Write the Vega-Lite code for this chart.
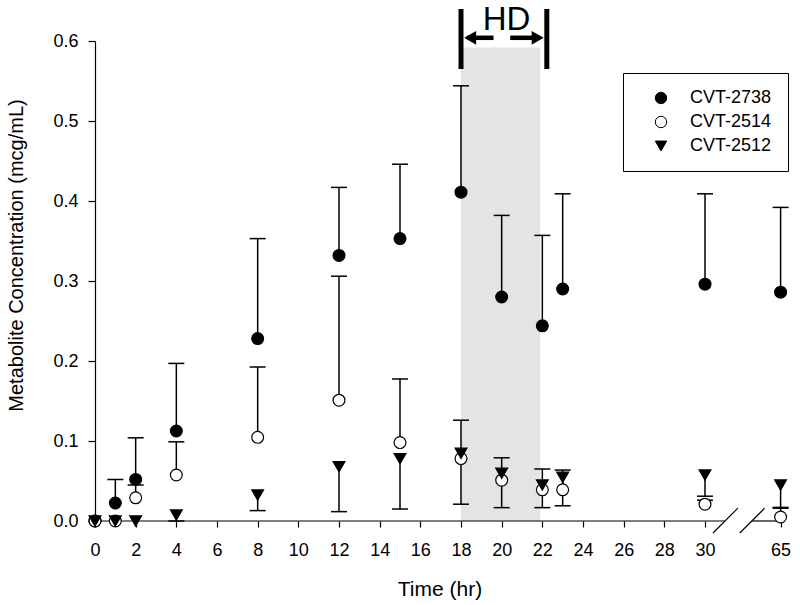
{
  "$schema": "https://vega.github.io/schema/vega-lite/v6.json",
  "width": 689,
  "height": 480,
  "autosize": {"type": "none"},
  "padding": {"left": 95, "top": 41, "right": 16, "bottom": 84},
  "background": "white",
  "config": {
    "view": {"stroke": null},
    "font": "Liberation Sans",
    "axis": {"grid": false, "domainColor": "black", "tickColor": "black", "labelColor": "black", "titleColor": "black", "titleFontWeight": "normal", "domainWidth": 1.2, "tickWidth": 1.2, "labelFont": "Liberation Sans", "titleFont": "Liberation Sans"},
    "legend": {"title": null, "orient": "none", "legendX": 528, "legendY": 32, "strokeColor": "black", "fillColor": "white", "padding": 16, "symbolOffset": 13, "labelOffset": 20, "rowPadding": 6, "labelFontSize": 18, "labelColor": "black", "labelFont": "Liberation Sans", "symbolSize": 130, "symbolStrokeWidth": 1}
  },
  "datasets": {
    "conc": [
      {"compound": "CVT-2738", "time": 0, "conc": 0.0, "bar": null},
      {"compound": "CVT-2738", "time": 1, "conc": 0.0225, "bar": 0.052},
      {"compound": "CVT-2738", "time": 2, "conc": 0.052, "bar": 0.104},
      {"compound": "CVT-2738", "time": 4, "conc": 0.1125, "bar": 0.197},
      {"compound": "CVT-2738", "time": 8, "conc": 0.228, "bar": 0.353},
      {"compound": "CVT-2738", "time": 12, "conc": 0.332, "bar": 0.417},
      {"compound": "CVT-2738", "time": 15, "conc": 0.353, "bar": 0.446},
      {"compound": "CVT-2738", "time": 18, "conc": 0.411, "bar": 0.544},
      {"compound": "CVT-2738", "time": 20, "conc": 0.28, "bar": 0.382},
      {"compound": "CVT-2738", "time": 22, "conc": 0.244, "bar": 0.357},
      {"compound": "CVT-2738", "time": 23, "conc": 0.29, "bar": 0.409},
      {"compound": "CVT-2738", "time": 30, "conc": 0.296, "bar": 0.409},
      {"compound": "CVT-2738", "time": 65, "conc": 0.286, "bar": 0.392},
      {"compound": "CVT-2514", "time": 0, "conc": 0.0, "bar": null},
      {"compound": "CVT-2514", "time": 1, "conc": 0.0, "bar": null},
      {"compound": "CVT-2514", "time": 2, "conc": 0.029, "bar": 0.045},
      {"compound": "CVT-2514", "time": 4, "conc": 0.0575, "bar": 0.099},
      {"compound": "CVT-2514", "time": 8, "conc": 0.1046, "bar": 0.1925},
      {"compound": "CVT-2514", "time": 12, "conc": 0.151, "bar": 0.306},
      {"compound": "CVT-2514", "time": 15, "conc": 0.098, "bar": 0.1775},
      {"compound": "CVT-2514", "time": 18, "conc": 0.078, "bar": 0.126},
      {"compound": "CVT-2514", "time": 20, "conc": 0.051, "bar": 0.079},
      {"compound": "CVT-2514", "time": 22, "conc": 0.039, "bar": 0.065},
      {"compound": "CVT-2514", "time": 23, "conc": 0.039, "bar": 0.0637},
      {"compound": "CVT-2514", "time": 30, "conc": 0.021, "bar": 0.026},
      {"compound": "CVT-2514", "time": 65, "conc": 0.005, "bar": 0.017},
      {"compound": "CVT-2512", "time": 0, "conc": 0.0, "bar": null},
      {"compound": "CVT-2512", "time": 1, "conc": 0.0, "bar": null},
      {"compound": "CVT-2512", "time": 2, "conc": 0.0, "bar": null},
      {"compound": "CVT-2512", "time": 4, "conc": 0.0075, "bar": 0.0},
      {"compound": "CVT-2512", "time": 8, "conc": 0.0325, "bar": 0.013},
      {"compound": "CVT-2512", "time": 12, "conc": 0.068, "bar": 0.0117},
      {"compound": "CVT-2512", "time": 15, "conc": 0.078, "bar": 0.015},
      {"compound": "CVT-2512", "time": 18, "conc": 0.0846, "bar": 0.021},
      {"compound": "CVT-2512", "time": 20, "conc": 0.0596, "bar": 0.0167},
      {"compound": "CVT-2512", "time": 22, "conc": 0.045, "bar": 0.0167},
      {"compound": "CVT-2512", "time": 23, "conc": 0.0546, "bar": 0.019},
      {"compound": "CVT-2512", "time": 30, "conc": 0.0575, "bar": 0.031},
      {"compound": "CVT-2512", "time": 65, "conc": 0.045, "bar": 0.016}
    ]
  },
  "layer": [
    {
      "data": {"values": [{}]},
      "mark": {"type": "rect", "color": "#e4e4e4"},
      "encoding": {
        "x": {"datum": 18, "type": "quantitative", "scale": {"domain": [0, 30, 65], "range": [0, 610, 685.6], "nice": false, "zero": false}},
        "x2": {"datum": 21.9},
        "y": {"datum": 0, "type": "quantitative", "scale": {"domain": [0, 0.6], "nice": false}},
        "y2": {"datum": 0.592}
      }
    },
    {
      "data": {"values": [{}]},
      "mark": {"type": "rule", "color": "black", "strokeWidth": 1.2},
      "encoding": {"x": {"datum": 0, "type": "quantitative"}, "x2": {"datum": 39.4}, "y": {"datum": 0, "type": "quantitative"}}
    },
    {
      "data": {"values": [{}]},
      "mark": {"type": "rule", "color": "black", "strokeWidth": 1.2},
      "encoding": {"x": {"datum": 51.9, "type": "quantitative"}, "x2": {"datum": 66.2}, "y": {"datum": 0, "type": "quantitative"}}
    },
    {
      "data": {"values": [{}]},
      "mark": {"type": "rule", "color": "black", "strokeWidth": 1.2},
      "encoding": {"x": {"datum": 33.7, "type": "quantitative"}, "x2": {"datum": 45.2}, "y": {"datum": -0.015, "type": "quantitative"}, "y2": {"datum": 0.016}}
    },
    {
      "data": {"values": [{}]},
      "mark": {"type": "rule", "color": "black", "strokeWidth": 1.2},
      "encoding": {"x": {"datum": 46.1, "type": "quantitative"}, "x2": {"datum": 57.6}, "y": {"datum": -0.015, "type": "quantitative"}, "y2": {"datum": 0.016}}
    },
    {
      "data": {"values": [{}]},
      "mark": {"type": "rule", "color": "black", "strokeWidth": 5},
      "encoding": {"x": {"datum": 18, "type": "quantitative"}, "y": {"datum": 0.565, "type": "quantitative"}, "y2": {"datum": 0.64}}
    },
    {
      "data": {"values": [{}]},
      "mark": {"type": "rule", "color": "black", "strokeWidth": 5},
      "encoding": {"x": {"datum": 22.22, "type": "quantitative"}, "y": {"datum": 0.565, "type": "quantitative"}, "y2": {"datum": 0.64}}
    },
    {
      "data": {"values": [{}]},
      "mark": {"type": "rule", "color": "black", "strokeWidth": 4.5},
      "encoding": {"x": {"datum": 18.3, "type": "quantitative"}, "x2": {"datum": 19.6}, "y": {"datum": 0.604, "type": "quantitative"}}
    },
    {
      "data": {"values": [{}]},
      "mark": {"type": "rule", "color": "black", "strokeWidth": 4.5},
      "encoding": {"x": {"datum": 20.42, "type": "quantitative"}, "x2": {"datum": 21.7}, "y": {"datum": 0.604, "type": "quantitative"}}
    },
    {
      "data": {"values": [{}]},
      "mark": {"type": "point", "shape": "triangle-left", "filled": true, "color": "black", "opacity": 1, "size": 190},
      "encoding": {"x": {"datum": 18.45, "type": "quantitative"}, "y": {"datum": 0.604, "type": "quantitative"}}
    },
    {
      "data": {"values": [{}]},
      "mark": {"type": "point", "shape": "triangle-right", "filled": true, "color": "black", "opacity": 1, "size": 190},
      "encoding": {"x": {"datum": 21.77, "type": "quantitative"}, "y": {"datum": 0.604, "type": "quantitative"}}
    },
    {
      "data": {"values": [{}]},
      "mark": {"type": "text", "text": "HD", "fontSize": 33, "font": "Liberation Sans", "align": "center", "baseline": "middle", "color": "black"},
      "encoding": {"x": {"datum": 20.24, "type": "quantitative"}, "y": {"datum": 0.626, "type": "quantitative"}}
    },
    {
      "data": {"name": "conc"},
      "transform": [{"filter": "datum.bar != null"}],
      "mark": {"type": "rule", "color": "black", "strokeWidth": 1.5},
      "encoding": {
        "x": {"field": "time", "type": "quantitative"},
        "y": {"field": "conc", "type": "quantitative"},
        "y2": {"field": "bar"}
      }
    },
    {
      "data": {"name": "conc"},
      "transform": [{"filter": "datum.bar != null"}],
      "mark": {"type": "tick", "orient": "horizontal", "color": "black", "size": 16, "thickness": 1.5, "opacity": 1},
      "encoding": {
        "x": {"field": "time", "type": "quantitative"},
        "y": {"field": "bar", "type": "quantitative"}
      }
    },
    {
      "data": {"name": "conc"},
      "mark": {"type": "point", "filled": true, "strokeWidth": 1.2, "size": 140, "opacity": 1},
      "encoding": {
        "x": {
          "field": "time", "type": "quantitative",
          "scale": {"domain": [0, 30, 65], "range": [0, 610, 685.6], "nice": false, "zero": false},
          "axis": {"title": "Time (hr)", "values": [0, 2, 4, 6, 8, 10, 12, 14, 16, 18, 20, 22, 24, 26, 28, 30, 65], "domain": false, "tickSize": 6, "labelBaseline": "alphabetic", "labelPadding": 28, "labelFontSize": 18, "titleFontSize": 21, "titleX": 344.5, "titleY": 74, "titleBaseline": "alphabetic", "titleAlign": "center", "labelFlush": false, "labelOverlap": false}
        },
        "y": {
          "field": "conc", "type": "quantitative",
          "scale": {"domain": [0, 0.6], "nice": false},
          "axis": {"title": "Metabolite Concentration (mcg/mL)", "values": [0, 0.1, 0.2, 0.3, 0.4, 0.5, 0.6], "format": ".1f", "tickSize": 7, "labelPadding": 10, "labelFontSize": 18, "titleFontSize": 20, "titleX": -73, "titleY": 214, "titleBaseline": "alphabetic", "titleAlign": "center", "labelFlush": false}
        },
        "shape": {
          "field": "compound", "type": "nominal",
          "scale": {"domain": ["CVT-2738", "CVT-2514", "CVT-2512"], "range": ["circle", "circle", "triangle-down"]}
        },
        "fill": {
          "field": "compound", "type": "nominal",
          "scale": {"domain": ["CVT-2738", "CVT-2514", "CVT-2512"], "range": ["black", "white", "black"]}
        },
        "stroke": {
          "field": "compound", "type": "nominal",
          "scale": {"domain": ["CVT-2738", "CVT-2514", "CVT-2512"], "range": ["black", "black", "black"]}
        }
      }
    }
  ]
}
